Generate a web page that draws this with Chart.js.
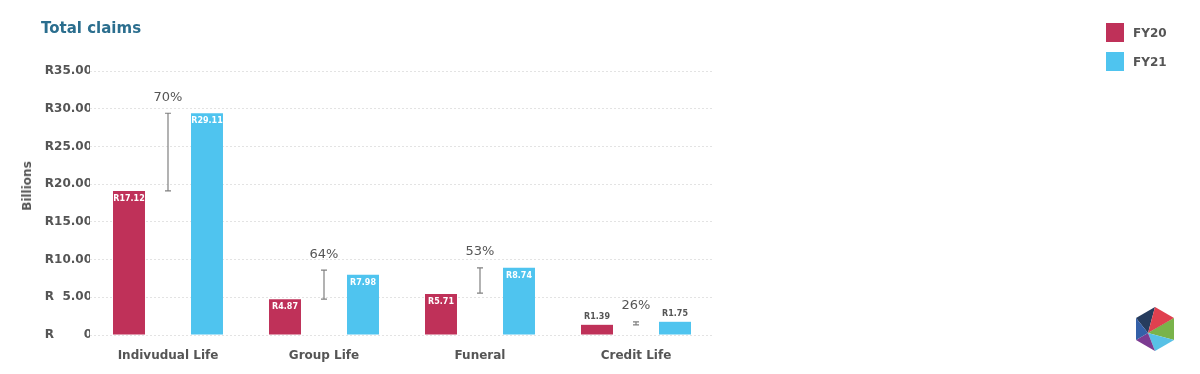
<!DOCTYPE html>
<html>
<head>
<meta charset="utf-8">
<script src="https://cdn.jsdelivr.net/npm/chart.js@4"></script>
<style>
  body { margin: 0; background: #fff; font-family: "DejaVu Sans", Verdana, sans-serif; }
  #wrap { position: relative; width: 1200px; height: 374px; }
  #chart { position: absolute; left: 0; top: 0; }
  #title { position: absolute; left: 41px; top: 19px; font-size: 15px; font-weight: bold; color: #2b6e8e; }
  #ytitle { position: absolute; left: 27px; top: 186px; transform: translate(-50%, -50%) rotate(-90deg); font-size: 12px; font-weight: bold; color: #555; white-space: nowrap; }
  #legend { position: absolute; left: 1106px; top: 23px; }
  .leg-item { display: flex; align-items: center; height: 19px; margin-bottom: 10px; font-size: 12px; font-weight: bold; color: #555; }
  .leg-box { width: 18px; height: 19px; margin-right: 9px; }
  #logo { position: absolute; left: 1130px; top: 302px; }
</style>
</head>
<body>
<div id="wrap">
  <canvas id="chart" width="1200" height="374"></canvas>
  <div id="title">Total claims</div>
  <div id="ytitle">Billions</div>
  <div id="legend"></div>
  <svg id="logo" width="50" height="55" viewBox="1130 302 50 55">
    <polygon points="1148,333 1136,318 1155,307" fill="#263c5e"/>
    <polygon points="1148,333 1155,307 1174,318" fill="#e0404f"/>
    <polygon points="1148,333 1174,318 1162,326" fill="#c92f55"/>
    <polygon points="1148,333 1174,318 1174,340" fill="#79b34a"/>
    <polygon points="1148,333 1174,340 1155,351" fill="#58c1e6"/>
    <polygon points="1148,333 1155,351 1136,340" fill="#7c3b91"/>
    <polygon points="1148,333 1136,340 1136,318" fill="#3460a8"/>
  </svg>
</div>
<script>
const categories = ['Indivudual Life', 'Group Life', 'Funeral', 'Credit Life'];
const fy20 = [19.1, 4.75, 5.45, 1.35];
const fy21 = [29.4, 7.98, 8.9, 1.75];
const fy20Labels = ['R17.12', 'R4.87', 'R5.71', 'R1.39'];
const fy21Labels = ['R29.11', 'R7.98', 'R8.74', 'R1.75'];
const changeLow = [19.1, 4.75, 5.55, 1.35];
const changeHigh = [29.4, 8.6, 8.9, 1.75];
const changePct = ['70%', '64%', '53%', '26%'];
const seriesNames = ['FY20', 'FY21'];
const seriesColors = ['#bf3159', '#4fc4ef'];
const yTicks = [0, 5, 10, 15, 20, 25, 30, 35];

const FONT = '"DejaVu Sans", Verdana, sans-serif';

// html legend
document.getElementById('legend').innerHTML = seriesNames.map((n, i) => `
  <div class="leg-item"><div class="leg-box" style="background:${seriesColors[i]}"></div>${n}</div>
`).join('');

function tickLabel(v) {
  if (v === 0) return 'R\u2007\u2007\u2007\u20080';
  if (v < 10) return 'R\u2007' + v.toFixed(2);
  return 'R' + v.toFixed(2);
}

const overlayPlugin = {
  id: 'overlay',
  afterDatasetsDraw(chart) {
    const ctx = chart.ctx;
    const xs = chart.scales.x, ys = chart.scales.y;
    const labels = [fy20Labels, fy21Labels];
    ctx.save();
    ctx.textAlign = 'center';
    ctx.textBaseline = 'middle';
    ctx.font = 'bold 8px ' + FONT;
    chart.data.datasets.forEach((ds, di) => {
      chart.getDatasetMeta(di).data.forEach((bar, i) => {
        const h = bar.base - bar.y;
        if (h > 20) {
          ctx.fillStyle = '#fff';
          ctx.fillText(labels[di][i], bar.x, bar.y + 8);
        } else {
          ctx.fillStyle = '#555';
          ctx.fillText(labels[di][i], bar.x, bar.y - 8);
        }
      });
    });

    // change markers between the two bars
    ctx.strokeStyle = '#808080';
    ctx.lineWidth = 1.2;
    ctx.font = '13px ' + FONT;
    ctx.fillStyle = '#555';
    categories.forEach((c, i) => {
      const cx = xs.getPixelForValue(i);
      const top = ys.getPixelForValue(changeHigh[i]);
      const bot = ys.getPixelForValue(changeLow[i]);
      ctx.beginPath();
      ctx.moveTo(cx, top); ctx.lineTo(cx, bot);
      ctx.moveTo(cx - 3, top); ctx.lineTo(cx + 3, top);
      ctx.moveTo(cx - 3, bot); ctx.lineTo(cx + 3, bot);
      ctx.stroke();
      ctx.fillText(changePct[i], cx, top - 16);
    });
    ctx.restore();
  }
};

new Chart(document.getElementById('chart'), {
  type: 'bar',
  data: {
    labels: categories,
    datasets: seriesNames.map((n, i) => ({
      label: n,
      data: i === 0 ? fy20 : fy21,
      backgroundColor: seriesColors[i],
      borderWidth: 0,
      categoryPercentage: 1.0,
      barPercentage: 0.41
    }))
  },
  options: {
    responsive: false,
    animation: false,
    layout: { padding: { left: 0, right: 486, top: 71, bottom: 0 } },
    plugins: {
      legend: { display: false },
      tooltip: { enabled: false }
    },
    scales: {
      x: {
        grid: { display: false },
        border: { display: false },
        ticks: { padding: 6, color: '#555', font: { family: FONT, size: 12, weight: 'bold' } },
        afterFit: (s) => { s.height = 39; }
      },
      y: {
        min: 0,
        max: 35,
        afterBuildTicks: (s) => { s.ticks = yTicks.map(v => ({ value: v })); },
        grid: { color: '#e3e3e3', drawTicks: false },
        border: { display: false, dash: [2, 2] },
        ticks: {
          padding: -2,
          color: '#555',
          font: { family: FONT, size: 12, weight: 'bold' },
          callback: (v) => tickLabel(v)
        },
        afterFit: (s) => { s.width = 90; }
      }
    }
  },
  plugins: [overlayPlugin]
});
</script>
</body>
</html>
